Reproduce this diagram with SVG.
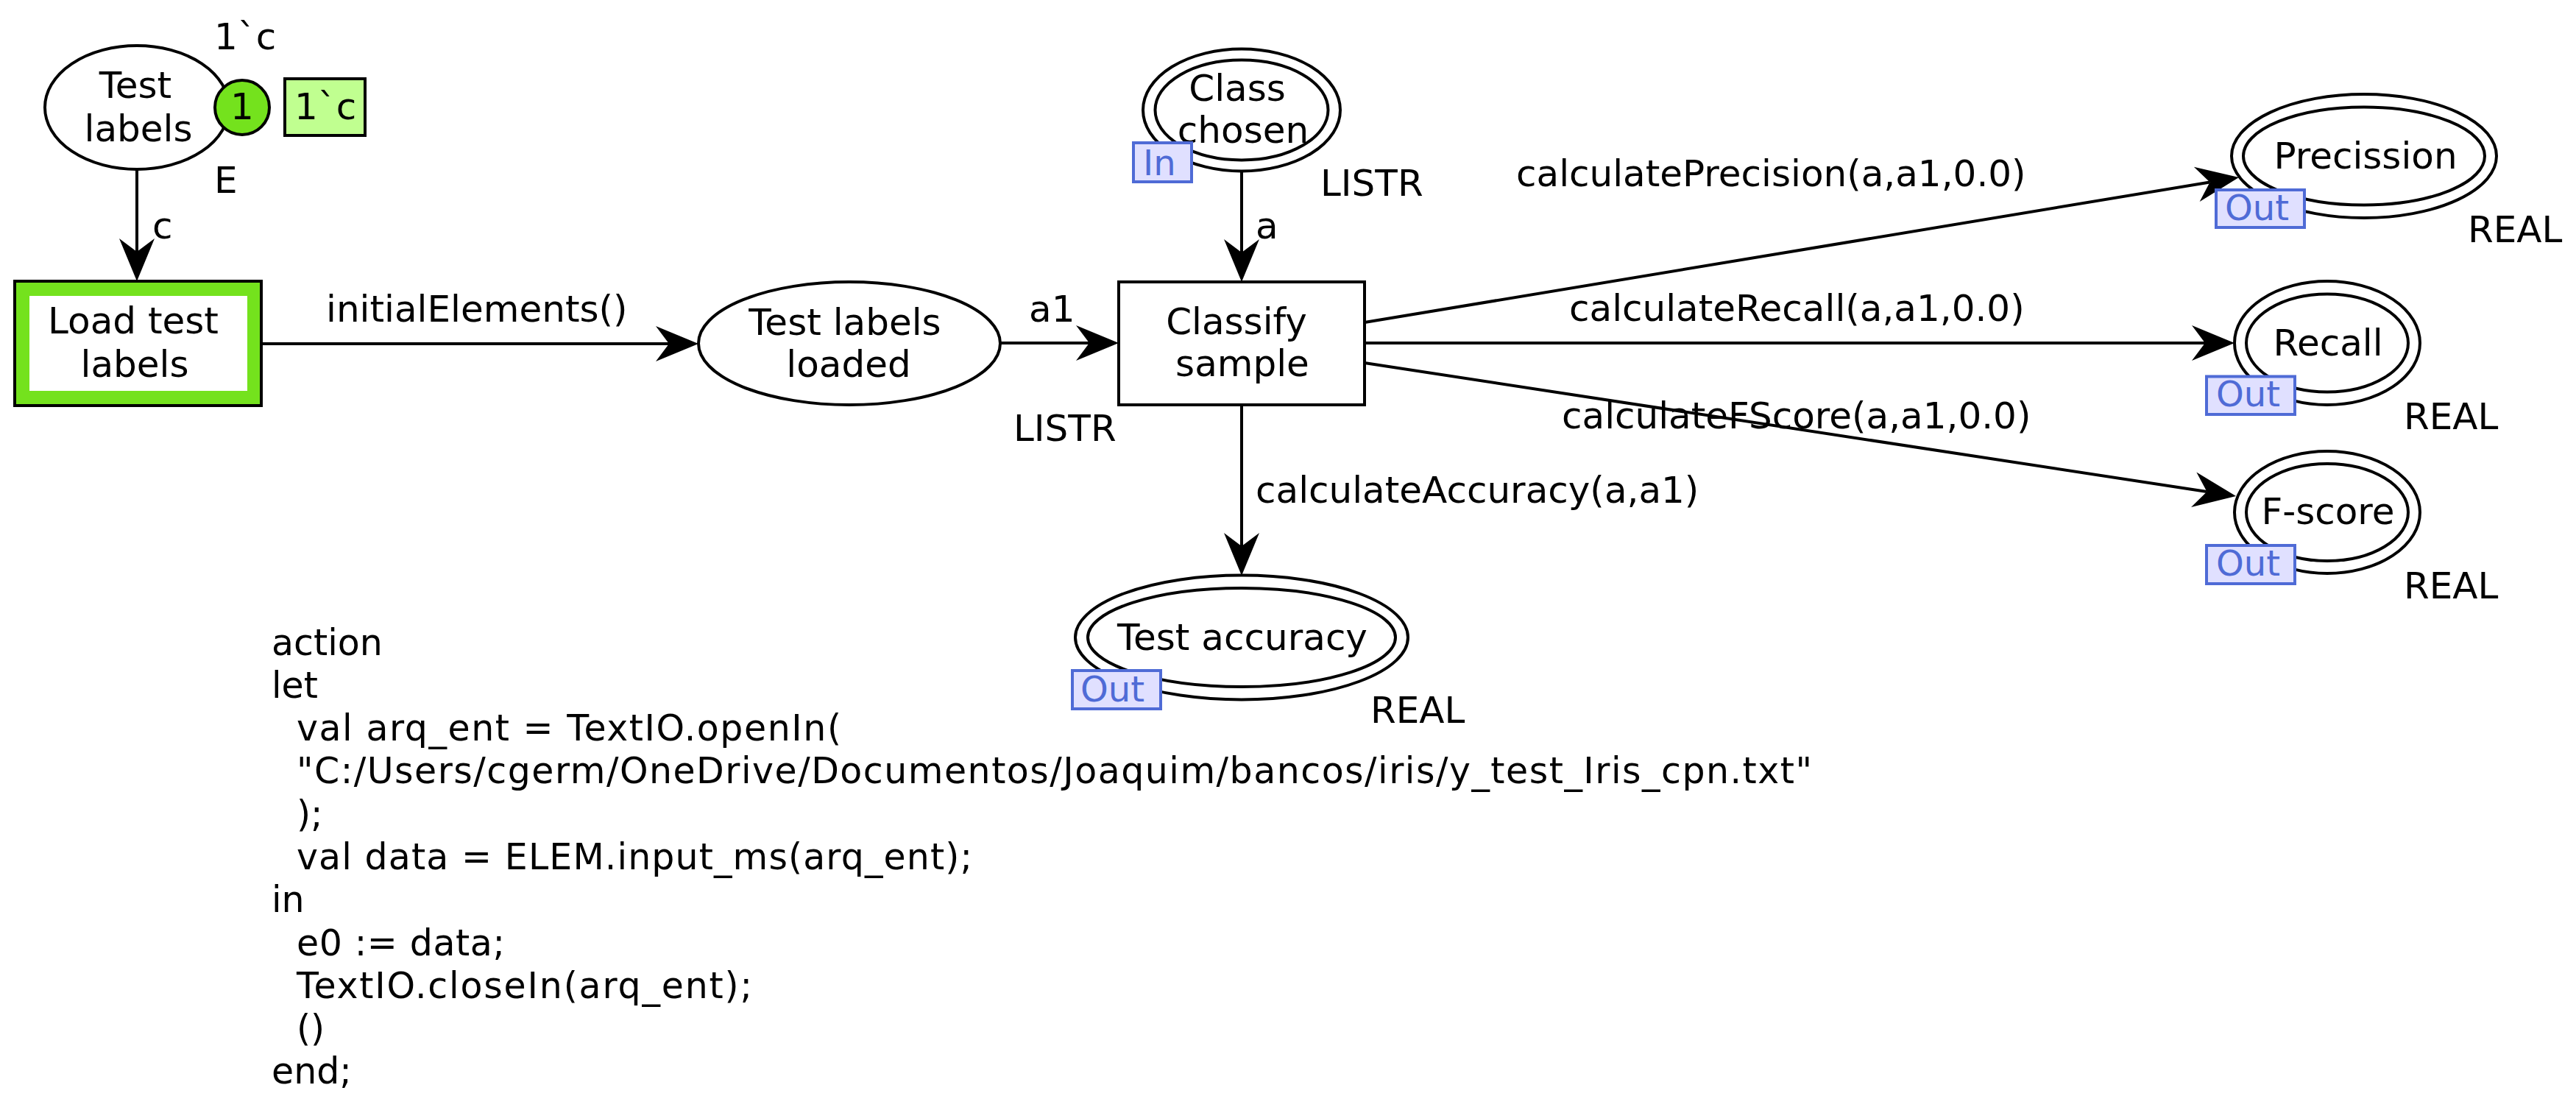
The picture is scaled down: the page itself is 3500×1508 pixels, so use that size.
<svg xmlns="http://www.w3.org/2000/svg" width="3500" height="1508" viewBox="0 0 3500 1508">
<style>
text{font-family:"DejaVu Sans","Noto Sans",sans-serif;font-size:50px;fill:#000}
.c{text-anchor:middle}
.pl{fill:#fff;stroke:#000;stroke-width:4}
.tr{fill:#fff;stroke:#000;stroke-width:4}
.arc{fill:none;stroke:#000;stroke-width:4}
.port{fill:#e0e0ff;stroke:#4f6bd6;stroke-width:4}
.pt{fill:#4f6bd6;font-size:48px}
.code text{font-size:49px}
</style>
<defs>
<marker id="ah" markerUnits="userSpaceOnUse" orient="auto" refX="0" refY="0" markerWidth="80" markerHeight="60" viewBox="-20 -30 80 60" overflow="visible">
<path d="M40,0 L-18,-24 L0,0 L-18,24 Z" fill="#000"/>
</marker>
</defs>
<g id="connectors">
<line class="arc" x1="186" y1="229" x2="186" y2="342" marker-end="url(#ah)"/>
<line class="arc" x1="355" y1="467" x2="909" y2="467" marker-end="url(#ah)"/>
<line class="arc" x1="1359" y1="466" x2="1480" y2="466" marker-end="url(#ah)"/>
<line class="arc" x1="1687" y1="233" x2="1687" y2="343" marker-end="url(#ah)"/>
<line class="arc" x1="1687" y1="550" x2="1687" y2="742" marker-end="url(#ah)"/>
<line class="arc" x1="1854" y1="438" x2="3002.5" y2="247.5" marker-end="url(#ah)"/>
<line class="arc" x1="1854" y1="466" x2="2996" y2="466" marker-end="url(#ah)"/>
<line class="arc" x1="1854" y1="493" x2="2998.5" y2="668" marker-end="url(#ah)"/>
<text x="207" y="324">c</text>
<text x="443" y="437">initialElements()</text>
<text x="1398" y="437">a1</text>
<text x="1706" y="324">a</text>
<text x="1706" y="683">calculateAccuracy(a,a1)</text>
<text x="2060" y="253">calculatePrecision(a,a1,0.0)</text>
<text x="2132" y="436">calculateRecall(a,a1,0.0)</text>
<text x="2122" y="582">calculateFScore(a,a1,0.0)</text>
</g>
<g id="test-labels">
<ellipse class="pl" cx="186" cy="146" rx="125" ry="84"/>
<text class="c" x="184" y="133">Test</text>
<text class="c" x="188" y="192">labels</text>
<text x="291" y="67">1`c</text>
<text x="291" y="262">E</text>
<circle cx="329" cy="146" r="37" fill="#74e21d" stroke="#000" stroke-width="4"/>
<text class="c" x="329" y="162">1</text>
<rect x="387" y="107" width="109" height="77" fill="#c0ff90" stroke="#000" stroke-width="4"/>
<text x="400" y="162">1`c</text>
</g>
<g id="load-test-labels">
<rect x="20" y="382" width="335" height="169" fill="#74e21d" stroke="#000" stroke-width="4"/>
<rect x="40" y="402" width="296" height="129" fill="#fff"/>
<text class="c" x="181" y="453">Load test</text>
<text class="c" x="183" y="512">labels</text>
</g>
<g id="test-labels-loaded">
<ellipse class="pl" cx="1154" cy="466.5" rx="205" ry="83.5"/>
<text class="c" x="1148" y="455">Test labels</text>
<text class="c" x="1153" y="512">loaded</text>
<text x="1377" y="599">LISTR</text>
</g>
<g id="class-chosen">
<ellipse class="pl" cx="1687" cy="149.5" rx="134" ry="83"/>
<ellipse class="arc" cx="1687" cy="149.5" rx="117.5" ry="68"/>
<text class="c" x="1681" y="137">Class</text>
<text class="c" x="1689" y="194">chosen</text>
<rect class="port" x="1540" y="194" width="79" height="53"/>
<text class="pt" x="1553" y="238">In</text>
<text x="1794" y="266">LISTR</text>
</g>
<g id="classify-sample">
<rect class="tr" x="1520" y="383" width="334" height="167"/>
<text class="c" x="1680" y="454">Classify</text>
<text class="c" x="1688" y="511">sample</text>
</g>
<g id="test-accuracy">
<ellipse class="pl" cx="1687" cy="866" rx="226" ry="84.5"/>
<ellipse class="arc" cx="1687" cy="866" rx="209" ry="67"/>
<text class="c" x="1688" y="883">Test accuracy</text>
<rect class="port" x="1457" y="911" width="120" height="52"/>
<text class="pt" x="1468" y="953">Out</text>
<text x="1862" y="982">REAL</text>
</g>
<g id="precission">
<ellipse class="pl" cx="3212" cy="212" rx="180" ry="84"/>
<ellipse class="arc" cx="3212" cy="212" rx="164" ry="66.5"/>
<text class="c" x="3214" y="229">Precission</text>
<rect class="port" x="3011" y="258" width="120" height="51"/>
<text class="pt" x="3023" y="299">Out</text>
<text x="3353" y="329">REAL</text>
</g>
<g id="recall">
<ellipse class="pl" cx="3162" cy="466" rx="126" ry="84"/>
<ellipse class="arc" cx="3162" cy="466" rx="110" ry="66.5"/>
<text class="c" x="3163" y="483">Recall</text>
<rect class="port" x="2998" y="511.5" width="120" height="51.5"/>
<text class="pt" x="3011" y="552">Out</text>
<text x="3266" y="583">REAL</text>
</g>
<g id="f-score">
<ellipse class="pl" cx="3162" cy="696" rx="126" ry="83"/>
<ellipse class="arc" cx="3162" cy="696" rx="110" ry="66"/>
<text class="c" x="3163" y="712">F-score</text>
<rect class="port" x="2998" y="741" width="120" height="52"/>
<text class="pt" x="3011" y="782">Out</text>
<text x="3266" y="813">REAL</text>
</g>
<g id="code" class="code">
<text x="369" y="890">action</text>
<text x="369" y="948">let</text>
<text x="403" y="1006" textLength="740" lengthAdjust="spacing">val arq_ent = TextIO.openIn(</text>
<text x="403" y="1064" textLength="2059" lengthAdjust="spacing">"C:/Users/cgerm/OneDrive/Documentos/Joaquim/bancos/iris/y_test_Iris_cpn.txt"</text>
<text x="403" y="1123">);</text>
<text x="403" y="1181" textLength="918" lengthAdjust="spacing">val data = ELEM.input_ms(arq_ent);</text>
<text x="369" y="1239">in</text>
<text x="403" y="1298" textLength="283" lengthAdjust="spacing">e0 := data;</text>
<text x="403" y="1356" textLength="619" lengthAdjust="spacing">TextIO.closeIn(arq_ent);</text>
<text x="403" y="1414">()</text>
<text x="369" y="1472">end;</text>
</g>
</svg>
